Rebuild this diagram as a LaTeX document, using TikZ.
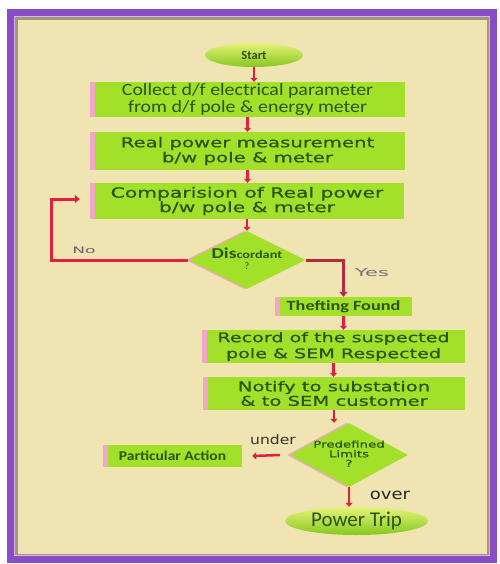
\documentclass[tikz,border=0pt]{standalone}
\usepackage{fontspec}
\usetikzlibrary{shapes.geometric,arrows.meta}
\newfontfamily\fcarl{Carlito}
\newfontfamily\fcarlx{Carlito}[FakeStretch=1.15]
\newfontfamily\fcarlw{Carlito}[FakeStretch=1.3]
\newfontfamily\fverw{DejaVu Sans}[FakeStretch=1.45,FakeBold=0.6]
\newfontfamily\fverlbl{DejaVu Sans}[FakeStretch=1.9]
\newfontfamily\fverplain{DejaVu Sans}[FakeStretch=1.2]
\definecolor{cream}{HTML}{F0E4B2}
\definecolor{lime}{HTML}{A3E02A}
\definecolor{limelight}{HTML}{E6F27A}
\definecolor{limedark}{HTML}{86C81C}
\definecolor{txt}{HTML}{2B5410}
\definecolor{pinkish}{HTML}{F2A6C8}
\definecolor{framec}{HTML}{8A4CC6}
\definecolor{shadowc}{HTML}{A49578}
\definecolor{arr}{HTML}{E0203C}
\definecolor{arrdark}{HTML}{B8283A}
\tikzset{
  box/.style={rectangle, fill=lime, text=txt, inner sep=0pt, align=center,
    path picture={\fill[pinkish] (path picture bounding box.north west) rectangle ([xshift=5pt]path picture bounding box.south west);}},
  term/.style={ellipse, inner sep=0pt, top color=limelight, bottom color=limedark, text=txt},
  dec/.style={diamond, fill=lime, inner sep=0pt, text=txt,
    preaction={fill=pinkish, transform canvas={xshift=-3pt}}},
  flow/.style={draw=arr, line width=2.5pt, -{Triangle[length=4pt,width=7pt]}},
  loopline/.style={draw=arr, line width=3pt, -{Triangle[length=5pt,width=8pt]}},
  lbl/.style={inner sep=0pt, text=#1},
}
\begin{document}
\begin{tikzpicture}[x=1pt,y=-1pt]
\useasboundingbox (0,0) rectangle (499,564);
\fill[white] (0,0) rectangle (499,564);
% frame
\fill[cream] (14,16) rectangle (490,557);
\draw[shadowc, line width=3pt] (16.5,18.5) rectangle (488,555);
\draw[framec, line width=7pt] (10.5,12.5) rectangle (493.5,559.5);
\draw[framec!40!white, line width=1pt] (14.5,16.5) rectangle (489.5,555.5);

% nodes
\node[term, minimum width=98pt, minimum height=24pt, font=\fcarl\bfseries\fontsize{12.5}{13}\selectfont] (start) at (254,55) {Start};
\node[box, minimum width=315pt, minimum height=35pt, font=\fcarlx\fontsize{17.3}{16.5}\selectfont] (b1) at (247.5,99.5) {Collect d/f electrical parameter\\from d/f pole \& energy meter};
\node[box, minimum width=315pt, minimum height=38pt, font=\fverw\fontsize{13.6}{15}\selectfont] (b2) at (247.5,151) {Real power measurement\\b/w pole \& meter};
\node[box, minimum width=314pt, minimum height=36pt, font=\fverw\fontsize{14}{14.5}\selectfont] (b3) at (247,201) {Comparision of Real power\\b/w pole \& meter};
\node[dec, minimum width=117pt, minimum height=58pt] (disc) at (247,260)
  {\makebox[0pt]{\renewcommand{\arraystretch}{0.8}\begin{tabular}{@{}c@{}}\fcarlw\bfseries{\fontsize{15}{15}\selectfont Dis}{\fontsize{11}{15}\selectfont cordant}\\[1pt]\fcarl\fontsize{10}{10}\selectfont ?\end{tabular}}};
\node[box, minimum width=137pt, minimum height=19pt, font=\fcarlw\bfseries\fontsize{14}{14}\selectfont] (theft) at (343.5,306.5) {Thefting Found};
\node[box, minimum width=263pt, minimum height=33pt, font=\fverw\fontsize{13.2}{16}\selectfont] (rec) at (333.5,346.5) {Record of the suspected\\pole \& SEM Respected};
\node[box, minimum width=262pt, minimum height=33pt, font=\fverw\fontsize{13.5}{14.5}\selectfont] (notif) at (334,393.5) {Notify to substation\\\& to SEM customer};
\node[dec, minimum width=118pt, minimum height=64pt] (pred) at (349,455)
  {\makebox[0pt]{\renewcommand{\arraystretch}{0.75}\begin{tabular}{@{}c@{}}\fverw\fontsize{9.2}{11}\selectfont Predefined\\\fverw\fontsize{9.2}{11}\selectfont Limits\\\fverw\fontsize{9.2}{11}\selectfont ?\end{tabular}}};
\node[box, minimum width=139pt, minimum height=22pt, font=\fcarlx\bfseries\fontsize{13.5}{14}\selectfont] (part) at (172.5,456) {Particular Action};
\node[term, minimum width=143pt, minimum height=28pt, font=\fcarl\fontsize{21}{22}\selectfont] (trip) at (356.5,521) {Power Trip};

% labels
\node[lbl=black!60, font=\fverlbl\fontsize{9}{10}\selectfont] (nol) at (84,250) {No};
\node[lbl=black!55, font=\fverlbl\fontsize{11}{12}\selectfont] (yesl) at (372,273) {Yes};
\node[lbl=black!80, font=\fverplain\fontsize{13}{14}\selectfont] (underl) at (273,440) {under};
\node[lbl=black!85, font=\fverplain\fontsize{15}{16}\selectfont] (overl) at (390,495) {over};

% connectors
\draw[flow] (start.south) -- (start.south |- b1.north);
\draw[flow] (b1.south) -- (b1.south |- b2.north);
\draw[flow] (b2.south) -- (b2.south |- b3.north);
\draw[flow] (b3.south) -- (b3.south |- disc.north);
\draw[loopline] (disc.west) -| ([xshift=-38pt,yshift=2pt]b3.west) -- ([xshift=-10pt,yshift=2pt]b3.west);
\draw[loopline, draw=arrdark] (disc.east) -| (theft.north);
\draw[flow] (theft.south) -- (theft.south |- rec.north);
\draw[flow] (rec.south) -- (rec.south |- notif.north);
\draw[flow] (notif.south) -- (notif.south |- pred.north);
\draw[flow] ([xshift=-10pt]pred.west) -- ([xshift=10pt]part.east);
\draw[flow] (pred.south) -- (pred.south |- trip.north);
\end{tikzpicture}
\end{document}
